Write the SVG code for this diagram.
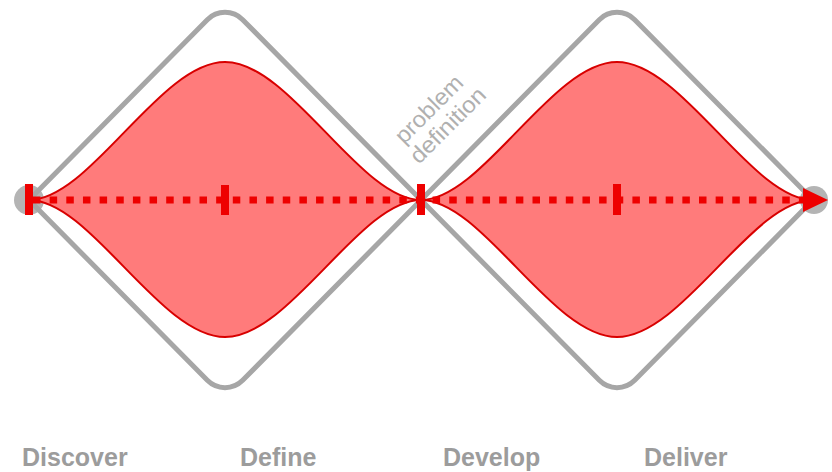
<svg xmlns="http://www.w3.org/2000/svg" width="832" height="472" viewBox="0 0 832 472">
  <style>
    .frame { fill: none; stroke: #a6a6a6; stroke-width: 5; stroke-linejoin: miter; }
    .lens { fill: #ff7b7b; stroke: #d80000; stroke-width: 2; }
    .dots { fill: none; stroke: #ee0000; stroke-width: 7; stroke-dasharray: 7.5 9.15; }
    .tick { fill: #ee0000; }
    .end { fill: #b4b4b4; }
    .phase { font-family: "Liberation Sans", Arial, sans-serif; font-size: 25px; font-weight: bold; fill: #9c9c9c; }
    .note { font-family: "Liberation Sans", Arial, sans-serif; font-size: 23px; fill: #b0b0b0; }
  </style>
  <defs>
    <marker id="arrow" viewBox="0 0 25 24" refX="0" refY="12" markerUnits="userSpaceOnUse" markerWidth="25" markerHeight="24" orient="auto">
      <path d="M0,0 L25,12 L0,24 Z" fill="#ee0000"/>
    </marker>
  </defs>

  <g id="endpoints">
    <circle class="end" cx="29" cy="200" r="15"/>
    <circle class="end" cx="814" cy="200" r="14"/>
  </g>

  <g id="diamond-discover-define">
    <path class="frame" d="M29,200 L207.32,19.68 A25,25 0 0 1 242.68,19.68 L421,200 L242.68,380.32 A25,25 0 0 1 207.32,380.32 Z"/>
    <path class="lens" d="M29,200 C90,200 160,62 225,62 C290,62 360,200 421,200 C360,200 290,337 225,337 C160,337 90,200 29,200 Z"/>
  </g>

  <g id="diamond-develop-deliver">
    <path class="frame" d="M421,200 L599.32,19.68 A25,25 0 0 1 634.68,19.68 L813,200 L634.68,380.32 A25,25 0 0 1 599.32,380.32 Z"/>
    <path class="lens" d="M421,200 C482,200 552,62 617,62 C682,62 752,200 813,200 C752,200 682,337 617,337 C552,337 482,200 421,200 Z"/>
  </g>

  <g id="connectors">
    <path class="dots" d="M33,200 L803,200"/>
    <path d="M800,200 L803,200" stroke="#ee0000" stroke-width="1" marker-end="url(#arrow)"/>
    <rect class="tick" x="25" y="184" width="8" height="31"/>
    <rect class="tick" x="221" y="185" width="8" height="30"/>
    <rect class="tick" x="417" y="184" width="8" height="31"/>
    <rect class="tick" x="613" y="184" width="8" height="31"/>
  </g>

  <g id="label-problem-definition">
    <text class="note" transform="translate(404,145) rotate(-45)" textLength="86" lengthAdjust="spacingAndGlyphs">problem</text>
    <text class="note" transform="translate(419,165) rotate(-45)" textLength="97" lengthAdjust="spacingAndGlyphs">definition</text>
  </g>

  <g id="label-discover"><text class="phase" x="22" y="466">Discover</text></g>
  <g id="label-define"><text class="phase" x="240" y="466">Define</text></g>
  <g id="label-develop"><text class="phase" x="443" y="466">Develop</text></g>
  <g id="label-deliver"><text class="phase" x="644" y="466">Deliver</text></g>
</svg>
